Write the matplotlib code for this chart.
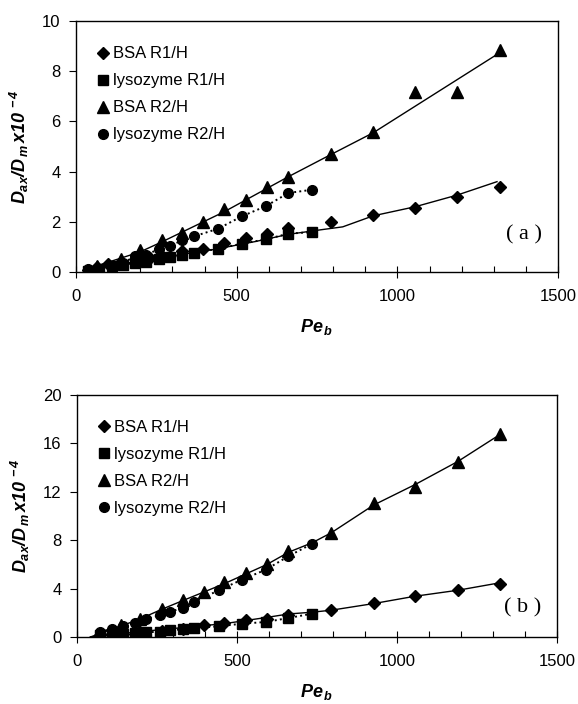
import matplotlib.pyplot as plt
from matplotlib.ticker import MultipleLocator

plt.rcParams['font.family'] = ['Liberation Sans', 'DejaVu Sans']
plt.rcParams['mathtext.fontset'] = 'custom'
plt.rcParams['mathtext.it'] = 'Liberation Sans:bold:italic'
plt.rcParams['mathtext.rm'] = 'Liberation Sans:bold:italic'
plt.rcParams['mathtext.bf'] = 'Liberation Sans:bold:italic'

# ---- panel (a) ----
a_bsa_r1_pe = [38, 66, 100, 139, 199, 230, 267, 331, 396, 461, 528, 593, 661, 793, 925, 1055, 1187, 1320]
a_bsa_r1 = [0.1, 0.2, 0.3, 0.38, 0.5, 0.55, 0.65, 0.82, 0.91, 1.15, 1.35, 1.51, 1.77, 1.99, 2.28, 2.54, 3.0, 3.4]
a_bsa_r1_fit_pe = [30, 200, 430, 560, 660, 760, 830, 925, 1055, 1187, 1310]
a_bsa_r1_fit = [0.05, 0.45, 0.9, 1.22, 1.5, 1.68, 1.8, 2.24, 2.6, 3.07, 3.6]

a_lys_r1_pe = [38, 73, 111, 145, 184, 217, 259, 292, 331, 367, 443, 516, 590, 661, 735]
a_lys_r1 = [0.05, 0.14, 0.23, 0.29, 0.36, 0.41, 0.5, 0.58, 0.68, 0.76, 0.93, 1.13, 1.3, 1.53, 1.59]

a_bsa_r2_pe = [66, 139, 199, 267, 331, 394, 461, 528, 593, 661, 793, 925, 1055, 1187, 1320]
a_bsa_r2 = [0.23, 0.52, 0.86, 1.26, 1.55, 1.99, 2.5, 2.87, 3.38, 3.8, 4.7, 5.56, 7.19, 7.19, 8.86]
a_bsa_r2_fit_pe = [30, 199, 267, 461, 661, 793, 925, 1310]
a_bsa_r2_fit = [0.1, 0.8, 1.2, 2.4, 3.8, 4.68, 5.55, 8.67]

a_lys_r2_pe = [38, 111, 145, 184, 217, 259, 292, 331, 367, 443, 516, 590, 661, 735]
a_lys_r2 = [0.12, 0.26, 0.36, 0.62, 0.69, 0.91, 1.05, 1.26, 1.42, 1.73, 2.22, 2.62, 3.15, 3.28]

# ---- panel (b) ----
b_bsa_r1_pe = [73, 109, 144, 198, 266, 330, 396, 460, 528, 594, 661, 794, 927, 1057, 1190, 1323]
b_bsa_r1 = [0.14, 0.22, 0.28, 0.41, 0.5, 0.69, 0.97, 1.16, 1.38, 1.52, 1.79, 2.21, 2.81, 3.37, 3.86, 4.41]
b_bsa_r1_fit_pe = [42, 200, 460, 594, 661, 736, 794, 927, 1057, 1190, 1320]
b_bsa_r1_fit = [0.0, 0.45, 1.1, 1.62, 1.9, 2.05, 2.21, 2.76, 3.37, 3.86, 4.47]

b_lys_r1_pe = [73, 109, 144, 182, 216, 258, 292, 330, 367, 443, 516, 591, 661, 736]
b_lys_r1 = [0.14, 0.22, 0.28, 0.33, 0.41, 0.41, 0.55, 0.66, 0.74, 0.88, 1.1, 1.24, 1.57, 1.93]

b_bsa_r2_pe = [137, 198, 266, 330, 396, 460, 528, 594, 661, 794, 927, 1057, 1190, 1323]
b_bsa_r2 = [0.97, 1.52, 2.34, 3.09, 3.72, 4.55, 5.3, 6.07, 7.12, 8.6, 11.03, 12.41, 14.48, 16.77]
b_bsa_r2_fit_pe = [42, 137, 198, 266, 330, 460, 594, 661, 736, 794, 927, 1057, 1190, 1320]
b_bsa_r2_fit = [0.0, 0.9, 1.5, 2.3, 3.0, 4.4, 6.0, 7.0, 7.8, 8.6, 10.9, 12.6, 14.5, 16.7]

b_lys_r2_pe = [73, 109, 144, 182, 216, 258, 292, 330, 367, 443, 516, 591, 661, 736]
b_lys_r2 = [0.41, 0.69, 0.91, 1.19, 1.46, 1.79, 2.07, 2.43, 2.9, 3.86, 4.74, 5.57, 6.68, 7.72]

labels = ['BSA R1/H', 'lysozyme R1/H', 'BSA R2/H', 'lysozyme R2/H']

fig = plt.figure(figsize=(5.78, 7.04), dpi=100)
ax1 = fig.add_axes([0.1315, 0.6136, 0.834, 0.3565])
ax2 = fig.add_axes([0.1332, 0.0952, 0.8304, 0.3438])


def panel(ax, d, ymax, ystep, tag, tag_y):
    (r1_pe, r1, r1f_pe, r1f, l1_pe, l1, r2_pe, r2, r2f_pe, r2f, l2_pe, l2) = d
    ax.plot(r1f_pe, r1f, '-', color='black', lw=1.0)
    ax.plot(l1_pe, l1, ':', color='black', lw=1.4)
    ax.plot(r2f_pe, r2f, '-', color='black', lw=1.0)
    ax.plot(l2_pe, l2, ':', color='black', lw=1.4)
    h1, = ax.plot(r1_pe, r1, 'D', color='black', ms=6, ls='none')
    h2, = ax.plot(l1_pe, l1, 's', color='black', ms=6.5, ls='none')
    h3, = ax.plot(r2_pe, r2, '^', color='black', ms=8, ls='none')
    h4, = ax.plot(l2_pe, l2, 'o', color='black', ms=7, ls='none')
    ax.legend([h1, h2, h3, h4], labels, loc='upper left', frameon=False,
              fontsize=12, handlelength=0.6, handletextpad=0.3,
              labelspacing=0.72, borderaxespad=0.9, bbox_to_anchor=(0.0, 0.985))
    ax.set_xlim(0, 1500)
    ax.set_ylim(0, ymax)
    ax.xaxis.set_major_locator(MultipleLocator(500))
    ax.xaxis.set_minor_locator(MultipleLocator(100))
    ax.yaxis.set_major_locator(MultipleLocator(ystep))
    ax.tick_params(axis='x', which='major', direction='inout', length=9, width=0.8,
                   labelsize=12, pad=8)
    ax.tick_params(axis='x', which='minor', direction='in', length=4, width=0.8)
    ax.tick_params(axis='y', which='major', direction='out', length=5, width=0.8,
                   labelsize=12, pad=6)
    for s in ax.spines.values():
        s.set_linewidth(1.0)
    ax.set_xlabel(r'$Pe_{\,b}$', fontsize=13, labelpad=9)
    ax.set_ylabel(r'$D_{ax}/D_{\,m}\,x10^{\,-4}$', fontsize=13, labelpad=8)
    ax.text(0.967, tag_y, '( %s )' % tag, transform=ax.transAxes, ha='right',
            va='center', fontsize=16, family='Liberation Serif')


panel(ax1, (a_bsa_r1_pe, a_bsa_r1, a_bsa_r1_fit_pe, a_bsa_r1_fit,
            a_lys_r1_pe, a_lys_r1, a_bsa_r2_pe, a_bsa_r2,
            a_bsa_r2_fit_pe, a_bsa_r2_fit, a_lys_r2_pe, a_lys_r2), 10, 2, 'a', 0.15)
panel(ax2, (b_bsa_r1_pe, b_bsa_r1, b_bsa_r1_fit_pe, b_bsa_r1_fit,
            b_lys_r1_pe, b_lys_r1, b_bsa_r2_pe, b_bsa_r2,
            b_bsa_r2_fit_pe, b_bsa_r2_fit, b_lys_r2_pe, b_lys_r2), 20, 4, 'b', 0.12)

plt.savefig('out.png', dpi=100)
